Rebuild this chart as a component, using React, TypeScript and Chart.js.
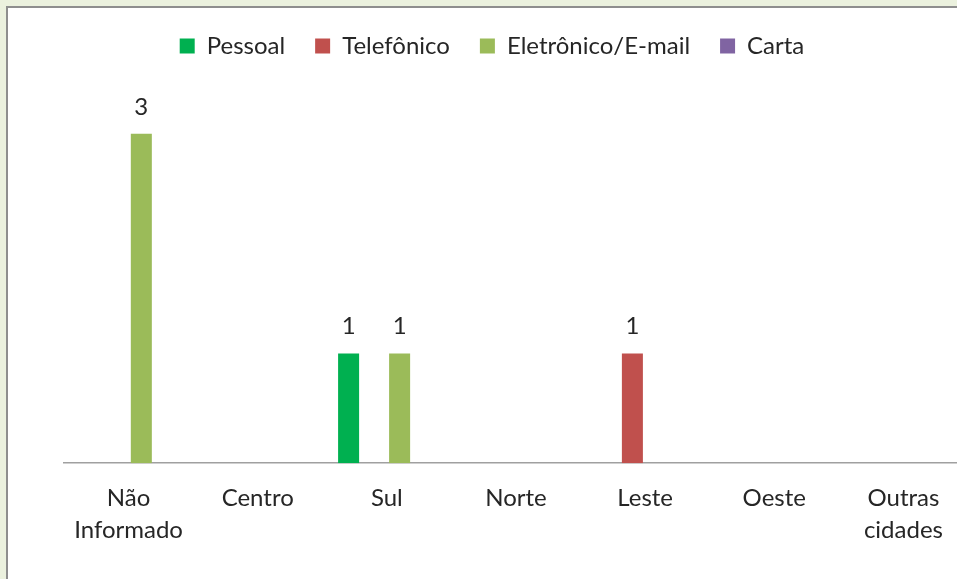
import React, { useEffect, useRef } from "react";
import { Chart, registerables } from "chart.js";

Chart.register(...registerables);

const categories: (string | string[])[] = [
  ["Não", "Informado"],
  "Centro",
  "Sul",
  "Norte",
  "Leste",
  "Oeste",
  ["Outras", "cidades"],
];
const pessoal = [0, 0, 1, 0, 0, 0, 0];
const telefonico = [0, 0, 0, 0, 1, 0, 0];
const eletronico = [3, 0, 1, 0, 0, 0, 0];
const carta = [0, 0, 0, 0, 0, 0, 0];

const FONT = "Lato, 'Open Sans', sans-serif";
const TEXT = "#262626";

const valueLabels = {
  id: "valueLabels",
  afterDatasetsDraw(chart: any) {
    const ctx = chart.ctx;
    ctx.save();
    ctx.font = `24px ${FONT}`;
    ctx.fillStyle = TEXT;
    ctx.textAlign = "center";
    ctx.textBaseline = "middle";
    chart.data.datasets.forEach((ds: any, i: number) => {
      const meta = chart.getDatasetMeta(i);
      meta.data.forEach((el: any, j: number) => {
        const v = ds.data[j];
        if (v > 0) ctx.fillText(String(v), el.x, el.y - 27);
      });
    });
    ctx.restore();
  },
};

export default function App() {
  const ref = useRef<HTMLCanvasElement>(null);
  useEffect(() => {
    document.body.style.margin = "0";
    document.body.style.overflow = "hidden";
    document.body.style.background = "#EBF1DE";
    const chart = new Chart(ref.current!, {
      type: "bar",
      data: {
        labels: categories as any,
        datasets: [
          { label: "Pessoal", data: pessoal, backgroundColor: "#00B050" },
          { label: "Telefônico", data: telefonico, backgroundColor: "#C0504D" },
          { label: "Eletrônico/E-mail", data: eletronico, backgroundColor: "#9BBB59" },
          { label: "Carta", data: carta, backgroundColor: "#8064A2" },
        ],
      },
      options: {
        animation: false,
        responsive: true,
        maintainAspectRatio: false,
        layout: { padding: { left: 8, right: 0, top: 0, bottom: 14 } },
        datasets: {
          bar: { categoryPercentage: 0.79, barPercentage: 0.824, borderWidth: 0 },
        } as any,
        plugins: {
          legend: {
            position: "top",
            labels: {
              boxWidth: 15,
              boxHeight: 15,
              padding: 30,
              color: TEXT,
              font: { family: FONT, size: 24 },
            },
          },
          tooltip: { enabled: false },
        },
        scales: {
          x: {
            grid: { display: false, drawTicks: false },
            border: { display: true, color: "#a0a0a0", width: 1.5 },
            ticks: {
              color: TEXT,
              padding: 19,
              maxRotation: 0,
              autoSkip: false,
              font: { family: FONT, size: 24, lineHeight: 1.33 },
            },
          },
          y: {
            display: true,
            min: 0,
            max: 3.6,
            ticks: { display: false },
            grid: { display: false, drawTicks: false },
            border: { display: false },
            afterFit(scale: any) {
              scale.width = 48;
            },
          },
        },
      },
      plugins: [valueLabels],
    });
    return () => chart.destroy();
  }, []);
  return (
    <div
      style={{
        position: "absolute",
        left: 6,
        top: 6,
        width: 980,
        height: 600,
        background: "#fff",
        borderLeft: "2px solid #8e8e8e",
        borderTop: "2px solid #8e8e8e",
      }}
    >
      <div style={{ position: "absolute", left: 0, top: -4, width: 960, height: 575 }}>
        <canvas ref={ref} />
      </div>
    </div>
  );
}
